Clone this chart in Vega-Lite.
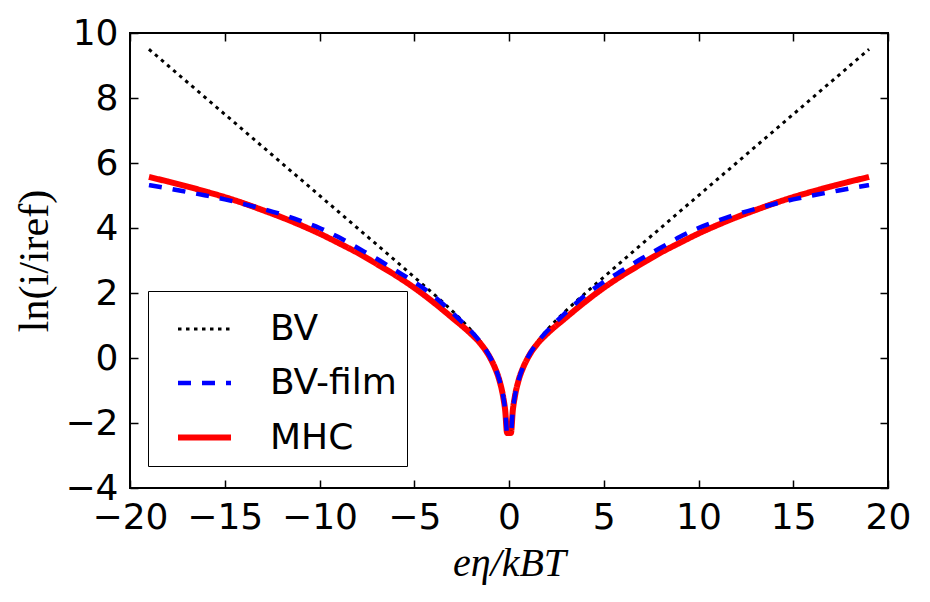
{
  "$schema": "https://vega.github.io/schema/vega-lite/v6.json",
  "width": 758,
  "height": 455,
  "autosize": {"type": "none"},
  "padding": {"left": 130, "top": 33, "right": 42, "bottom": 114},
  "background": "white",
  "datasets": {
    "d": [
      {"s":"BV","x":-19,"y":9.5},{"s":"BV","x":-18,"y":9.0},{"s":"BV","x":-17,"y":8.5},{"s":"BV","x":-16,"y":8.0},{"s":"BV","x":-15,"y":7.5},{"s":"BV","x":-14,"y":7.0},{"s":"BV","x":-13,"y":6.5},{"s":"BV","x":-12,"y":6.0},{"s":"BV","x":-11,"y":5.5},{"s":"BV","x":-10,"y":5.0},{"s":"BV","x":-9,"y":4.5},{"s":"BV","x":-8,"y":4.0},{"s":"BV","x":-7,"y":3.499},{"s":"BV","x":-6,"y":2.998},{"s":"BV","x":-5,"y":2.489},{"s":"BV","x":-4,"y":1.982},{"s":"BV","x":-3,"y":1.449},{"s":"BV","x":-2,"y":0.855},{"s":"BV","x":-1.5,"y":0.501},{"s":"BV","x":-1,"y":0.041},{"s":"BV","x":-0.75,"y":-0.264},{"s":"BV","x":-0.5,"y":-0.683},{"s":"BV","x":-0.3,"y":-1.2},{"s":"BV","x":-0.2,"y":-1.608},{"s":"BV","x":-0.1,"y":-2.302},
      {"s":"BV","x":0.1,"y":-2.302},{"s":"BV","x":0.2,"y":-1.608},{"s":"BV","x":0.3,"y":-1.2},{"s":"BV","x":0.5,"y":-0.683},{"s":"BV","x":0.75,"y":-0.264},{"s":"BV","x":1,"y":0.041},{"s":"BV","x":1.5,"y":0.501},{"s":"BV","x":2,"y":0.855},{"s":"BV","x":3,"y":1.449},{"s":"BV","x":4,"y":1.982},{"s":"BV","x":5,"y":2.489},{"s":"BV","x":6,"y":2.998},{"s":"BV","x":7,"y":3.499},{"s":"BV","x":8,"y":4.0},{"s":"BV","x":9,"y":4.5},{"s":"BV","x":10,"y":5.0},{"s":"BV","x":11,"y":5.5},{"s":"BV","x":12,"y":6.0},{"s":"BV","x":13,"y":6.5},{"s":"BV","x":14,"y":7.0},{"s":"BV","x":15,"y":7.5},{"s":"BV","x":16,"y":8.0},{"s":"BV","x":17,"y":8.5},{"s":"BV","x":18,"y":9.0},{"s":"BV","x":19,"y":9.5},
      {"s":"MHC","x":-19,"y":5.57},{"s":"MHC","x":-18,"y":5.43},{"s":"MHC","x":-17,"y":5.28},{"s":"MHC","x":-16,"y":5.12},{"s":"MHC","x":-15,"y":4.95},{"s":"MHC","x":-14,"y":4.76},{"s":"MHC","x":-13,"y":4.55},{"s":"MHC","x":-12,"y":4.33},{"s":"MHC","x":-11,"y":4.09},{"s":"MHC","x":-10,"y":3.83},{"s":"MHC","x":-9,"y":3.54},{"s":"MHC","x":-8,"y":3.24},{"s":"MHC","x":-7,"y":2.9},{"s":"MHC","x":-6,"y":2.55},{"s":"MHC","x":-5,"y":2.16},{"s":"MHC","x":-4,"y":1.72},{"s":"MHC","x":-3,"y":1.24},{"s":"MHC","x":-2,"y":0.74},{"s":"MHC","x":-1.5,"y":0.44},{"s":"MHC","x":-1,"y":0.01},{"s":"MHC","x":-0.75,"y":-0.29},{"s":"MHC","x":-0.5,"y":-0.7},{"s":"MHC","x":-0.3,"y":-1.22},{"s":"MHC","x":-0.2,"y":-1.62},{"s":"MHC","x":-0.1,"y":-2.31},
      {"s":"MHC","x":0.1,"y":-2.31},{"s":"MHC","x":0.2,"y":-1.62},{"s":"MHC","x":0.3,"y":-1.22},{"s":"MHC","x":0.5,"y":-0.7},{"s":"MHC","x":0.75,"y":-0.29},{"s":"MHC","x":1,"y":0.01},{"s":"MHC","x":1.5,"y":0.44},{"s":"MHC","x":2,"y":0.74},{"s":"MHC","x":3,"y":1.24},{"s":"MHC","x":4,"y":1.72},{"s":"MHC","x":5,"y":2.16},{"s":"MHC","x":6,"y":2.55},{"s":"MHC","x":7,"y":2.9},{"s":"MHC","x":8,"y":3.24},{"s":"MHC","x":9,"y":3.54},{"s":"MHC","x":10,"y":3.83},{"s":"MHC","x":11,"y":4.09},{"s":"MHC","x":12,"y":4.33},{"s":"MHC","x":13,"y":4.55},{"s":"MHC","x":14,"y":4.76},{"s":"MHC","x":15,"y":4.95},{"s":"MHC","x":16,"y":5.12},{"s":"MHC","x":17,"y":5.28},{"s":"MHC","x":18,"y":5.43},{"s":"MHC","x":19,"y":5.57},
      {"s":"BV-film","x":-19,"y":5.32},{"s":"BV-film","x":-18,"y":5.22},{"s":"BV-film","x":-17,"y":5.11},{"s":"BV-film","x":-16,"y":5.0},{"s":"BV-film","x":-15,"y":4.88},{"s":"BV-film","x":-14,"y":4.74},{"s":"BV-film","x":-13,"y":4.59},{"s":"BV-film","x":-12,"y":4.42},{"s":"BV-film","x":-11,"y":4.22},{"s":"BV-film","x":-10,"y":4.0},{"s":"BV-film","x":-9,"y":3.72},{"s":"BV-film","x":-8,"y":3.39},{"s":"BV-film","x":-7,"y":3.06},{"s":"BV-film","x":-6,"y":2.7},{"s":"BV-film","x":-5,"y":2.34},{"s":"BV-film","x":-4,"y":1.92},{"s":"BV-film","x":-3,"y":1.4},{"s":"BV-film","x":-2,"y":0.82},{"s":"BV-film","x":-1.5,"y":0.48},{"s":"BV-film","x":-1,"y":0.03},{"s":"BV-film","x":-0.75,"y":-0.27},{"s":"BV-film","x":-0.5,"y":-0.69},{"s":"BV-film","x":-0.3,"y":-1.2},{"s":"BV-film","x":-0.2,"y":-1.61},{"s":"BV-film","x":-0.1,"y":-2.3},
      {"s":"BV-film","x":0.1,"y":-2.3},{"s":"BV-film","x":0.2,"y":-1.61},{"s":"BV-film","x":0.3,"y":-1.2},{"s":"BV-film","x":0.5,"y":-0.69},{"s":"BV-film","x":0.75,"y":-0.27},{"s":"BV-film","x":1,"y":0.03},{"s":"BV-film","x":1.5,"y":0.48},{"s":"BV-film","x":2,"y":0.82},{"s":"BV-film","x":3,"y":1.4},{"s":"BV-film","x":4,"y":1.92},{"s":"BV-film","x":5,"y":2.34},{"s":"BV-film","x":6,"y":2.7},{"s":"BV-film","x":7,"y":3.06},{"s":"BV-film","x":8,"y":3.39},{"s":"BV-film","x":9,"y":3.72},{"s":"BV-film","x":10,"y":4.0},{"s":"BV-film","x":11,"y":4.22},{"s":"BV-film","x":12,"y":4.42},{"s":"BV-film","x":13,"y":4.59},{"s":"BV-film","x":14,"y":4.74},{"s":"BV-film","x":15,"y":4.88},{"s":"BV-film","x":16,"y":5.0},{"s":"BV-film","x":17,"y":5.11},{"s":"BV-film","x":18,"y":5.22},{"s":"BV-film","x":19,"y":5.32}
    ]
  },
  "config": {
    "view": {"stroke": "black", "strokeWidth": 2},
    "axis": {
      "grid": false,
      "domain": false,
      "ticks": true,
      "tickSize": -8,
      "tickColor": "black",
      "tickWidth": 1.5,
      "labelFont": "DejaVu Sans",
      "labelFontSize": 36,
      "labelColor": "black",
      "labelOverlap": false,
      "labelFlush": false,
      "titleColor": "black"
    }
  },
  "resolve": {"axis": {"x": "independent", "y": "independent"}},
  "layer": [
    {
      "layer": [
        {
          "transform": [{"filter": "datum.s === 'BV'"}],
          "data": {"name": "d"},
          "mark": {"type": "line", "interpolate": "monotone", "strokeCap": "butt"},
          "encoding": {
            "x": {"field": "x", "type": "quantitative"},
            "y": {"field": "y", "type": "quantitative"},
            "color": {"field": "s", "type": "nominal"},
            "strokeDash": {"field": "s", "type": "nominal"},
            "strokeWidth": {"field": "s", "type": "nominal"}
          }
        },
        {
          "transform": [{"filter": "datum.s === 'MHC'"}],
          "data": {"name": "d"},
          "mark": {"type": "line", "interpolate": "monotone", "strokeCap": "butt"},
          "encoding": {
            "x": {"field": "x", "type": "quantitative"},
            "y": {"field": "y", "type": "quantitative"},
            "color": {"field": "s", "type": "nominal"},
            "strokeDash": {"field": "s", "type": "nominal"},
            "strokeWidth": {"field": "s", "type": "nominal"}
          }
        }
      ],
      "encoding": {
        "x": {
          "field": "x", "type": "quantitative",
          "scale": {"domain": [-20, 20], "nice": false, "zero": false},
          "axis": {
            "orient": "bottom",
            "values": [-20, -15, -10, -5, 0, 5, 10, 15, 20],
            "labelPadding": 20,
            "title": "eη/kBT",
            "titleFont": "Liberation Serif",
            "titleFontStyle": "italic",
            "titleFontWeight": "normal",
            "titleFontSize": 40,
            "titlePadding": 8
          }
        },
        "y": {
          "field": "y", "type": "quantitative",
          "scale": {"domain": [-4, 10], "nice": false, "zero": false},
          "axis": {
            "orient": "left",
            "values": [-4, -2, 0, 2, 4, 6, 8, 10],
            "labelPadding": 20,
            "title": "ln(i/iref)",
            "titleFont": "Liberation Serif",
            "titleFontWeight": "normal",
            "titleFontSize": 42,
            "titlePadding": 8
          }
        },
        "color": {
          "field": "s", "type": "nominal",
          "scale": {"domain": ["BV", "BV-film", "MHC"], "range": ["#000000", "#0000ff", "#ff0000"]},
          "legend": {
            "title": null,
            "orient": "none",
            "legendX": 18,
            "legendY": 258,
            "symbolType": "stroke",
            "symbolSize": 2809,
            "symbolOffset": 17,
            "labelOffset": 36,
            "labelFont": "DejaVu Sans",
            "labelFontSize": 36,
            "labelColor": "black",
            "padding": 10,
            "rowPadding": 7,
            "strokeColor": "black",
            "fillColor": "white",
            "cornerRadius": 0
          }
        },
        "strokeDash": {
          "field": "s", "type": "nominal",
          "scale": {"domain": ["BV", "BV-film", "MHC"], "range": [[3.5, 4.5], [13, 11], [1, 0]]}
        },
        "strokeWidth": {
          "field": "s", "type": "nominal",
          "scale": {"domain": ["BV", "BV-film", "MHC"], "range": [3, 6, 8]}
        }
      }
    },
    {
      "transform": [{"filter": "datum.s === 'BV-film'"}],
      "data": {"name": "d"},
      "mark": {"type": "line", "interpolate": "monotone", "strokeCap": "butt"},
      "encoding": {
        "x": {
          "field": "x", "type": "quantitative",
          "scale": {"domain": [-20, 20], "nice": false, "zero": false},
          "axis": {"orient": "top", "values": [-20, -15, -10, -5, 0, 5, 10, 15, 20], "labels": false, "title": null}
        },
        "y": {
          "field": "y", "type": "quantitative",
          "scale": {"domain": [-4, 10], "nice": false, "zero": false},
          "axis": {"orient": "right", "values": [-4, -2, 0, 2, 4, 6, 8, 10], "labels": false, "title": null}
        },
        "color": {"field": "s", "type": "nominal"},
        "strokeDash": {"field": "s", "type": "nominal"},
        "strokeWidth": {"field": "s", "type": "nominal"}
      }
    }
  ]
}
